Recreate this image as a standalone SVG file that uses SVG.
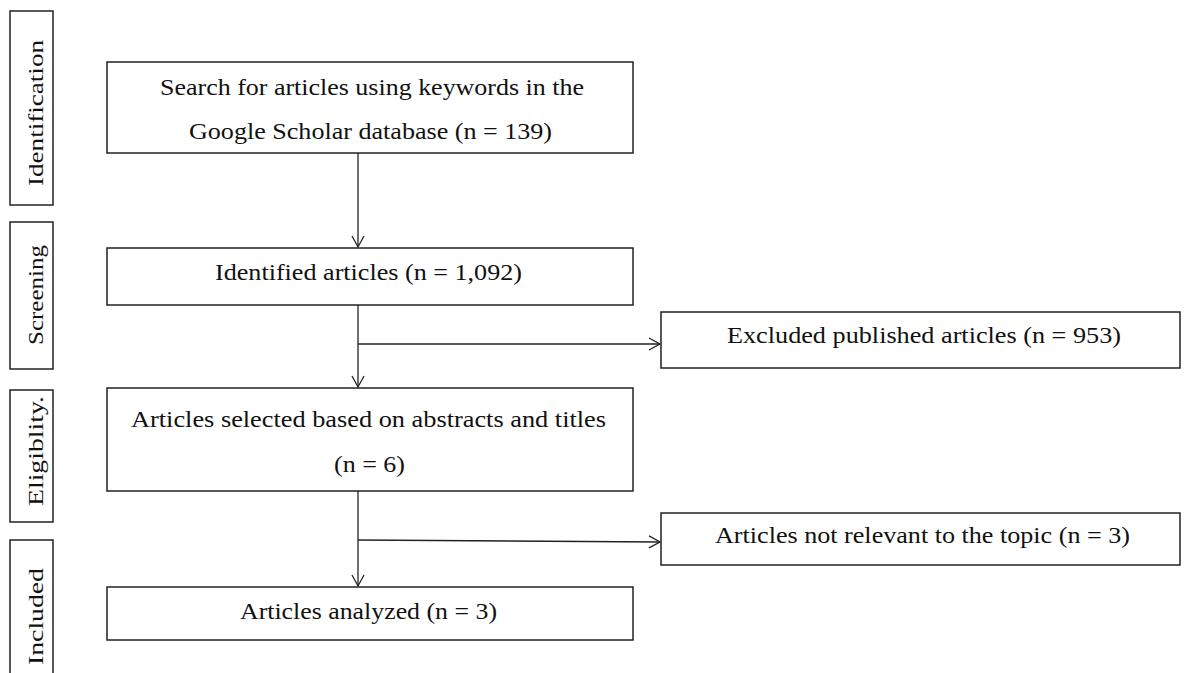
<svg xmlns="http://www.w3.org/2000/svg" width="1184" height="673" viewBox="0 0 1184 673">
<style>
.box{fill:#fff;stroke:#222;stroke-width:1.5}
.t{font-family:"Liberation Serif","Times New Roman",serif;font-size:24px;fill:#111}
.side{font-family:"Liberation Serif","Times New Roman",serif;font-size:21px;fill:#111}
.c{fill:none;stroke:#222;stroke-width:1.3}
</style>
<defs>
<marker id="arr" markerWidth="14" markerHeight="14" refX="12" refY="7" orient="auto" markerUnits="userSpaceOnUse">
<path d="M1,1 L12,7 L1,13" fill="none" stroke="#222" stroke-width="1.3"/>
</marker>
</defs>
<rect width="1184" height="673" fill="#fff"/>
<g id="phase-identification"><rect class="box" x="10" y="11" width="43" height="194"/><text class="side" transform="translate(43,186) rotate(-90)" textLength="146" lengthAdjust="spacingAndGlyphs">Identification</text></g>
<g id="phase-screening"><rect class="box" x="10" y="222" width="43" height="147"/><text class="side" transform="translate(43,345) rotate(-90)" textLength="100" lengthAdjust="spacingAndGlyphs">Screening</text></g>
<g id="phase-eligibility"><rect class="box" x="10" y="390" width="43" height="132"/><text class="side" transform="translate(43,506) rotate(-90)" textLength="110" lengthAdjust="spacingAndGlyphs">Eligiblity.</text></g>
<g id="phase-included"><rect class="box" x="10" y="540" width="43" height="140"/><text class="side" transform="translate(43,665) rotate(-90)" textLength="97" lengthAdjust="spacingAndGlyphs">Included</text></g>
<g id="n-search"><rect class="box" x="107" y="62" width="526" height="91"/><text class="t" x="160" y="95" textLength="424" lengthAdjust="spacingAndGlyphs">Search for articles using keywords in the</text><text class="t" x="189" y="139" textLength="363" lengthAdjust="spacingAndGlyphs">Google Scholar database (n = 139)</text></g>
<g id="n-identified"><rect class="box" x="107" y="248" width="526" height="57"/><text class="t" x="215" y="280" textLength="307" lengthAdjust="spacingAndGlyphs">Identified articles (n = 1,092)</text></g>
<g id="n-excluded"><rect class="box" x="661" y="312" width="519" height="56"/><text class="t" x="727" y="343" textLength="394" lengthAdjust="spacingAndGlyphs">Excluded published articles (n = 953)</text></g>
<g id="n-selected"><rect class="box" x="107" y="388" width="526" height="103"/><text class="t" x="131" y="427" textLength="475" lengthAdjust="spacingAndGlyphs">Articles selected based on abstracts and titles</text><text class="t" x="334" y="472" textLength="71" lengthAdjust="spacingAndGlyphs">(n = 6)</text></g>
<g id="n-notrelevant"><rect class="box" x="661" y="513" width="519" height="52"/><text class="t" x="715" y="543" textLength="415" lengthAdjust="spacingAndGlyphs">Articles not relevant to the topic (n = 3)</text></g>
<g id="n-analyzed"><rect class="box" x="107" y="587" width="526" height="53"/><text class="t" x="240" y="619" textLength="257" lengthAdjust="spacingAndGlyphs">Articles analyzed (n = 3)</text></g>
<g id="connectors">
<line class="c" x1="358" y1="153" x2="358" y2="247" marker-end="url(#arr)"/>
<line class="c" x1="358" y1="305" x2="358" y2="387" marker-end="url(#arr)"/>
<line class="c" x1="358" y1="344" x2="660" y2="344" marker-end="url(#arr)"/>
<line class="c" x1="358" y1="491" x2="358" y2="586" marker-end="url(#arr)"/>
<line class="c" x1="358" y1="540" x2="660" y2="542" marker-end="url(#arr)"/>
</g>
</svg>
